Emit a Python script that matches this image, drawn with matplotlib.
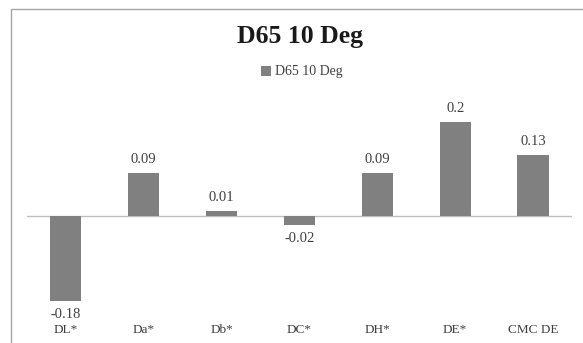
import numpy as np
import matplotlib
matplotlib.use('Agg')
import matplotlib.pyplot as plt
from matplotlib.patches import Rectangle

plt.rc('font', family='Liberation Serif')

##################
## Data
##################
categories = ['DL*', 'Da*', 'Db*', 'DC*', 'DH*', 'DE*', 'CMC DE']
values = [-0.18, 0.09, 0.01, -0.02, 0.09, 0.2, 0.13]
series_name = 'D65 10 Deg'

txt_col = '#404040'

##################
## Make plot
##################
fig = plt.figure(figsize=(5.83, 3.43), dpi=100)
ax = fig.add_axes([0.0463, 0.0962, 0.9348, 0.6181])

x = np.arange(len(categories))
bars = ax.bar(x, values, width=0.4, color='#808080', label=series_name, zorder=2)
ax.axhline(0, color='#bfbfbf', linewidth=1, zorder=1)

for xi, v in zip(x, values):
    if v >= 0:
        ax.annotate(str(v), (xi, v), xytext=(0, 5), textcoords='offset points',
                    ha='center', va='bottom', fontsize=10.5, color=txt_col)
    else:
        ax.annotate(str(v), (xi, v), xytext=(0, -5), textcoords='offset points',
                    ha='center', va='top', fontsize=10.5, color=txt_col)

ax.set_xlim(-0.5, len(categories) - 0.5)
ax.set_ylim(-0.2, 0.25)
ax.set_xticks(x)
ax.set_xticklabels(categories, fontsize=9.5, color=txt_col)
ax.tick_params(axis='x', length=0, pad=10)
ax.set_yticks([])
for s in ax.spines.values():
    s.set_visible(False)
ax.patch.set_alpha(0)

fig.text(300 / 583, 1 - 42.5 / 343, series_name, ha='center', va='baseline',
         fontsize=18.5, fontweight='bold', color='#1a1a1a')
fig.legend(handles=[bars], labels=[series_name], loc='center',
           bbox_to_anchor=(302 / 583, 1 - 72 / 343), frameon=False, fontsize=10,
           handlelength=0.7, handleheight=0.7, handletextpad=0.3,
           labelcolor=txt_col)

# chart area border
fig.patches.append(Rectangle((11 / 583, -0.05), 1.0, 1 - 9 / 343 + 0.05,
                             transform=fig.transFigure, fill=False,
                             edgecolor='#a6a6a6', linewidth=1))

fig.savefig('out.png', dpi=100)
